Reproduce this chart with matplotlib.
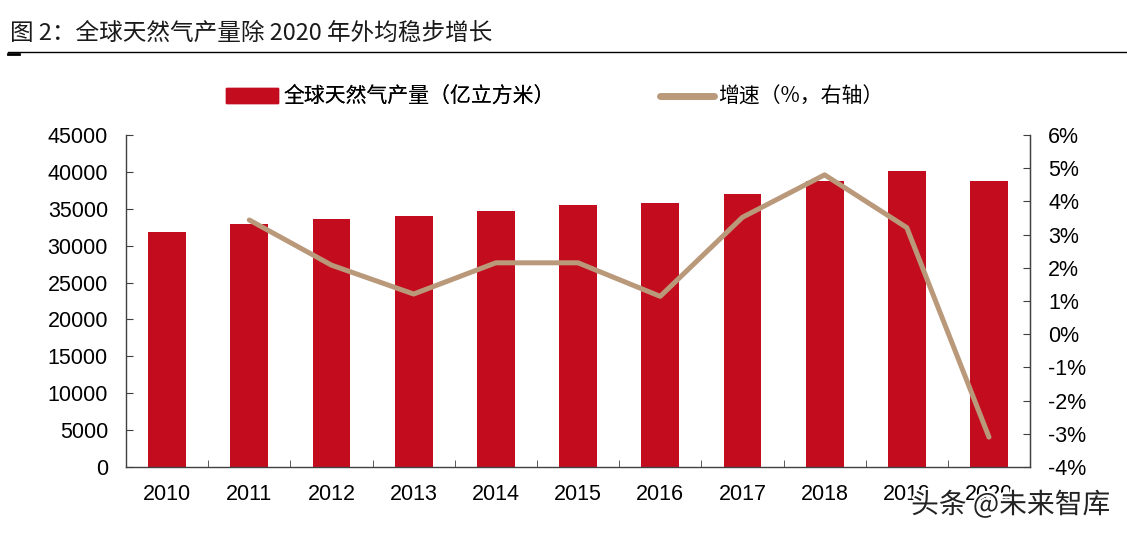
import matplotlib
matplotlib.use("Agg")
import matplotlib.pyplot as plt
import matplotlib.patheffects as pe
from matplotlib.lines import Line2D
import numpy as np

plt.rcParams['font.family'] = ['Liberation Sans', 'Noto Sans CJK SC', 'DejaVu Sans']

years = ["2010", "2011", "2012", "2013", "2014", "2015", "2016", "2017", "2018", "2019", "2020"]
production = [31900, 32940, 33610, 33980, 34740, 35470, 35780, 37050, 38830, 40060, 38830]
growth_years = ["2011", "2012", "2013", "2014", "2015", "2016", "2017", "2018", "2019", "2020"]
growth = [3.44, 2.08, 1.21, 2.15, 2.15, 1.14, 3.52, 4.8, 3.21, -3.1]

left_ticks = list(range(0, 45001, 5000))
right_ticks = list(range(-4, 7))

bar_color = "#C30D1F"
line_color = "#B9997A"
spine_color = "#404040"
tick_fs = 15.5

fig = plt.figure(figsize=(11.27, 5.35), dpi=100)
ax = fig.add_axes([0.1118, 0.1271, 0.8022, 0.6206])
x = np.arange(len(years))
ax.bar(x, production, width=0.46, color=bar_color, zorder=2)
ax.set_xlim(-0.5, len(years) - 0.5)
ax.set_ylim(0, 45000)
ax.set_yticks(left_ticks)
ax.set_yticklabels([str(v) for v in left_ticks], fontsize=tick_fs)
ax.set_xticks(x)
ax.set_xticklabels(years, fontsize=tick_fs)
ax.set_xticks(np.arange(len(years) + 1) - 0.5, minor=True)
ax.tick_params(axis='x', which='major', length=0, pad=12)
ax.tick_params(axis='x', which='minor', length=5, direction='in', color=spine_color)
ax.tick_params(axis='y', length=5, direction='in', color=spine_color, pad=13)
ax.spines['top'].set_visible(False)
for s in ['left', 'bottom', 'right']:
    ax.spines[s].set_color(spine_color)
    ax.spines[s].set_linewidth(1.0)

ax2 = ax.twinx()
gx = [years.index(y) for y in growth_years]
ax2.plot(gx, growth, color=line_color, linewidth=3.6, zorder=3, solid_capstyle='round')
ax2.set_ylim(-4, 6)
ax2.set_yticks(right_ticks)
ax2.set_yticklabels([f"{v}%" for v in right_ticks], fontsize=tick_fs)
ax2.tick_params(axis='y', length=5, direction='in', color=spine_color, pad=13)
ax2.spines['top'].set_visible(False)
ax2.spines['right'].set_color(spine_color)
ax2.spines['left'].set_visible(False)
ax2.spines['bottom'].set_visible(False)

# legend (two separate entries to control placement)
leg_prop = {'family': ['Noto Sans CJK SC'], 'size': 15}
leg1 = fig.legend([plt.Rectangle((0, 0), 1, 1, color=bar_color)], ["全球天然气产量（亿立方米）"],
                  loc='center left', bbox_to_anchor=(0.2005, 0.8187), frameon=False,
                  prop=leg_prop, handlelength=2.5, handleheight=0.75, handletextpad=0.25,
                  borderpad=0, borderaxespad=0)
leg2 = fig.legend([Line2D([0], [0], color=line_color, linewidth=5, solid_capstyle='round')],
                  ["增速（%，右轴）"],
                  loc='center left', bbox_to_anchor=(0.5856, 0.8187), frameon=False,
                  prop=leg_prop, handlelength=2.6, handletextpad=0.2,
                  borderpad=0, borderaxespad=0)
fig.add_artist(leg1)

# title
fig.text(0.009, 0.938, "图 2：全球天然气产量除 2020 年外均稳步增长", fontsize=17,
         ha='left', va='center', color='#1a1a1a',
         family=['Noto Sans CJK SC', 'DejaVu Sans'])
fig.add_artist(Line2D([0.007, 1.0], [0.903, 0.903], color='black', linewidth=1.0,
                      transform=fig.transFigure))
fig.add_artist(Line2D([0.007, 0.017], [0.899, 0.899], color='black', linewidth=2.0,
                      transform=fig.transFigure))

# watermark
fig.text(0.985, 0.056, "头条 @未来智库", fontsize=20, ha='right', va='center',
         color='#222222', family=['Noto Sans CJK SC', 'DejaVu Sans'],
         path_effects=[pe.withStroke(linewidth=3, foreground='white')])

fig.savefig("out.png", dpi=100)
